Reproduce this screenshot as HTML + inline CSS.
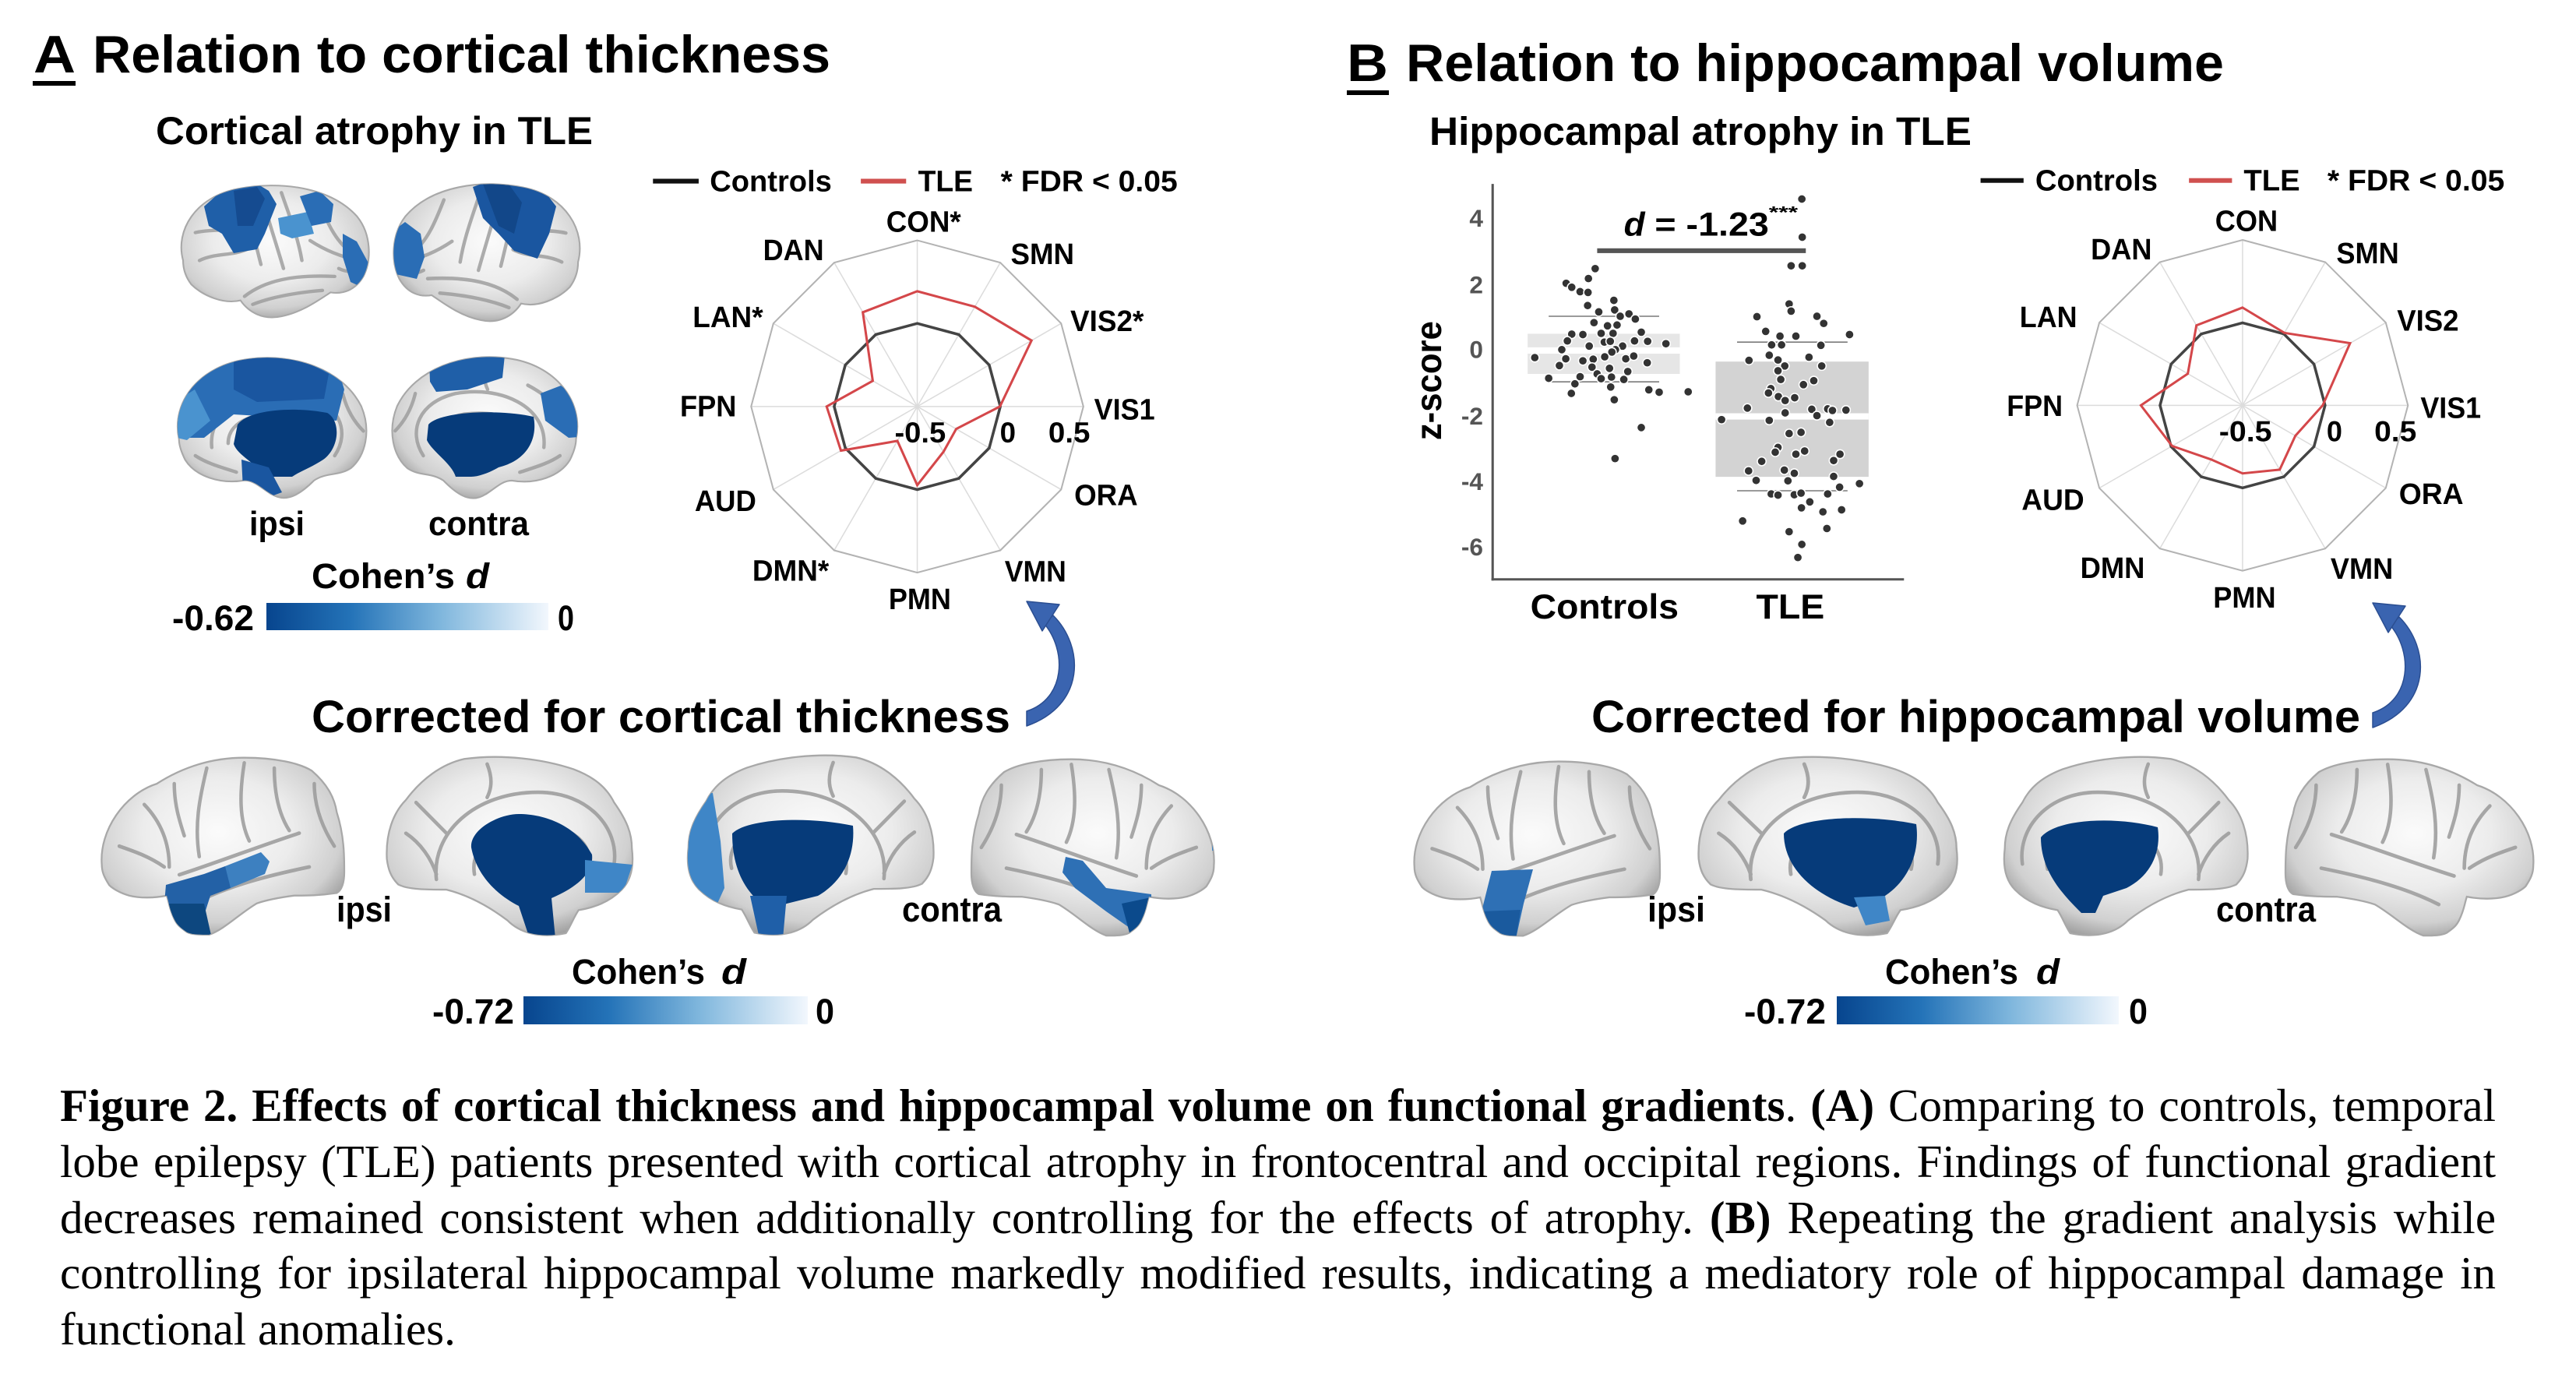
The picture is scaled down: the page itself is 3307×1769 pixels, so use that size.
<!DOCTYPE html>
<html><head><meta charset="utf-8">
<style>
html,body{margin:0;padding:0;background:#fff;}
body{width:3307px;height:1769px;position:relative;overflow:hidden;}
svg{position:absolute;left:0;top:0;}
svg text{font-family:"Liberation Sans",Arial,sans-serif;font-weight:bold;fill:#000;}
.cap{position:absolute;left:77px;width:3127px;font-family:"Liberation Serif","Times New Roman",serif;font-size:59px;line-height:71.7px;height:71.7px;color:#000;text-align:justify;text-align-last:justify;white-space:normal;overflow:hidden;}
.cap.last{text-align:left;text-align-last:left;}
</style></head>
<body>
<svg width="3307" height="1769" viewBox="0 0 3307 1769" xmlns="http://www.w3.org/2000/svg">
<defs>
  <radialGradient id="bg" cx="0.48" cy="0.42" r="0.62">
    <stop offset="0" stop-color="#fbfbfb"/>
    <stop offset="0.5" stop-color="#ececec"/>
    <stop offset="0.82" stop-color="#d0d0d0"/>
    <stop offset="1" stop-color="#9d9d9d"/>
  </radialGradient>
  <linearGradient id="cb" x1="0" x2="1" y1="0" y2="0">
    <stop offset="0" stop-color="#07458e"/>
    <stop offset="0.3" stop-color="#2473b8"/>
    <stop offset="0.62" stop-color="#80b7dd"/>
    <stop offset="1" stop-color="#f2f7fd"/>
  </linearGradient>
  <path id="latP" d="M8,40 C4,25 14,8 35,4 C55,0 80,3 93,18 C100,27 100,40 96,48 C92,55 86,57 80,56 C74,60 66,66 56,68 C47,70 40,66 36,60 C28,62 18,58 12,52 C9,48 8,44 8,40 Z"/>
  <path id="medP" d="M6,42 C2,24 16,6 40,3 C62,0 86,8 95,26 C100,38 97,50 90,56 C84,60 78,58 72,62 C66,68 60,72 54,70 C48,68 44,62 38,62 C26,64 14,60 9,52 C7,48 6,45 6,42 Z"/>
  <path id="latBP" d="M3,43 C2,30 12,16 25,12 C38,4 50,2 60,2 C72,2 82,4 87,7 C93,12 96,17 97,23 C100,32 100,40 100,46 C100,50 99,53 97,54 C90,55 85,55 80,55 C72,56 68,57 65,58 C58,62 52,68 46,70 C42,70 39,70 37,69 C34,67 33,66 32,64 C30,60 30,58 29,55 C24,56 18,56 14,55 C10,54 7,52 6,51 C4,48 3,46 3,43 Z"/>
  <path id="medBP" d="M0.5,40 C0,30 3,22 8,17 C14,9 22,3 31,1 C46,-1 62,1 74,5 C82,8 87,12 90,18 C95,25 97,30 97,36 C98,44 96,49 93,52 C88,57 82,59 76,60 C74,63 73,66 71,69 C66,70 61,70 57,69 C53,68 50,66 48,64 C40,58 32,54 24,52 C16,52 9,52 5,50 C2,47 1,44 0.5,40 Z"/>
  <g id="latT">
    <use href="#latP" fill="url(#bg)" stroke="#a8a8a8" stroke-width="0.8"/>
    <g fill="none" stroke="#9a9a9a" stroke-width="1.7" opacity="0.8" stroke-linecap="round">
      <path d="M38,58 C48,50 62,47 82,48"/>
      <path d="M46,6 C49,18 53,30 57,44"/>
      <path d="M38,7 C40,18 43,30 46,42"/>
      <path d="M56,6 C60,18 64,28 66,40"/>
      <path d="M14,26 C22,24 30,26 38,22"/>
      <path d="M16,40 C24,36 32,38 40,34"/>
      <path d="M74,10 C78,20 82,30 90,36"/>
      <path d="M42,62 C52,58 64,56 76,55"/>
      <path d="M70,30 C76,34 84,38 94,40"/>
      <path d="M22,14 C26,18 30,16 34,12"/>
      <path d="M84,44 C88,46 92,46 95,44"/>
    </g>
  </g>
  <g id="medT">
    <use href="#medP" fill="url(#bg)" stroke="#a8a8a8" stroke-width="0.8"/>
    <g fill="none" stroke="#9a9a9a" stroke-width="1.7" opacity="0.8" stroke-linecap="round">
      <path d="M22,46 C20,26 44,16 66,20 C84,24 90,38 82,50"/>
      <path d="M30,44 C30,32 46,28 62,30 C74,32 78,40 72,48"/>
      <path d="M12,30 C18,24 22,20 30,16"/>
      <path d="M86,20 C88,28 92,34 96,38"/>
      <path d="M50,5 C52,10 52,14 50,18"/>
      <path d="M14,50 C20,54 28,56 34,58"/>
    </g>
  </g>
  <g id="latBT">
    <use href="#latBP" fill="url(#bg)" stroke="#a8a8a8" stroke-width="0.7"/>
    <g fill="none" stroke="#9a9a9a" stroke-width="1.4" opacity="0.85" stroke-linecap="round">
      <path d="M34,47 C50,42 66,36 82,31"/>
      <path d="M45,6 C42,18 40,28 42,40"/>
      <path d="M60,4 C58,16 58,26 62,34"/>
      <path d="M72,6 C72,16 74,24 78,30"/>
      <path d="M20,20 C26,26 30,34 30,44"/>
      <path d="M10,36 C16,38 22,40 28,44"/>
      <path d="M40,58 C52,52 66,48 86,44"/>
      <path d="M88,12 C88,22 92,30 96,36"/>
      <path d="M32,12 C32,20 34,26 36,32"/>
    </g>
  </g>
  <g id="medBT">
    <use href="#medBP" fill="url(#bg)" stroke="#a8a8a8" stroke-width="0.7"/>
    <g fill="none" stroke="#9a9a9a" stroke-width="1.4" opacity="0.85" stroke-linecap="round">
      <path d="M20,48 C18,30 35,14 60,14 C80,14 92,28 90,42"/>
      <path d="M35,46 C33,34 45,26 62,27 C76,28 82,36 80,44"/>
      <path d="M8,30 C14,34 18,40 20,46"/>
      <path d="M40,3 C42,8 42,12 40,16"/>
      <path d="M12,18 C16,22 20,26 24,30"/>
    </g>
  </g>
  <clipPath id="ctA1"><use href="#latP" transform="translate(214,232) scale(2.63,2.56)"/></clipPath>
  <clipPath id="ctA2"><use href="#latP" transform="translate(763,230) scale(-2.61,2.66)"/></clipPath>
  <clipPath id="ctA3"><use href="#medP" transform="translate(214,453) scale(2.63,2.64)"/></clipPath>
  <clipPath id="ctA4"><use href="#medP" transform="translate(755,452) scale(-2.58,2.66)"/></clipPath>
  <clipPath id="cbA1"><use href="#latBP" transform="translate(121,966) scale(3.21,3.34)"/></clipPath>
  <clipPath id="cbA2"><use href="#medBP" transform="translate(495,971) scale(3.26,3.29)"/></clipPath>
  <clipPath id="cbA3"><use href="#medBP" transform="translate(1200,969) scale(-3.26,3.31)"/></clipPath>
  <clipPath id="cbA4"><use href="#latBP" transform="translate(1568,968) scale(-3.21,3.33)"/></clipPath>
  <clipPath id="cbB1"><use href="#latBP" transform="translate(1806,971) scale(3.25,3.29)"/></clipPath>
  <clipPath id="cbB2"><use href="#medBP" transform="translate(2179,971) scale(3.43,3.29)"/></clipPath>
  <clipPath id="cbB3"><use href="#medBP" transform="translate(2887,971) scale(-3.23,3.29)"/></clipPath>
</defs>

<rect x="0" y="0" width="3307" height="1769" fill="#fff"/>

<!-- ===== Titles ===== -->
<text x="43" y="93" font-size="68" textLength="54" lengthAdjust="spacingAndGlyphs">A</text>
<rect x="42" y="104" width="55" height="6" fill="#000"/>
<text x="119" y="93" font-size="68" textLength="947" lengthAdjust="spacingAndGlyphs">Relation to cortical thickness</text>

<text x="1729" y="104" font-size="68" textLength="53" lengthAdjust="spacingAndGlyphs">B</text>
<rect x="1729" y="116" width="54" height="6" fill="#000"/>
<text x="1805" y="104" font-size="68" textLength="1050" lengthAdjust="spacingAndGlyphs">Relation to hippocampal volume</text>

<text x="200" y="185" font-size="50" textLength="561" lengthAdjust="spacingAndGlyphs">Cortical atrophy in TLE</text>
<text x="1835" y="186" font-size="51" textLength="696" lengthAdjust="spacingAndGlyphs">Hippocampal atrophy in TLE</text>

<!-- ===== Top A brains ===== -->
<use href="#latT" transform="translate(214,232) scale(2.63,2.56)"/>
<use href="#latT" transform="translate(763,230) scale(-2.61,2.66)"/>
<use href="#medT" transform="translate(214,453) scale(2.63,2.64)"/>
<use href="#medT" transform="translate(755,452) scale(-2.58,2.66)"/>

<g clip-path="url(#ctA1)">
  <polygon points="262,265 290,240 330,236 345,245 355,262 340,300 330,320 300,325 285,300 268,290" fill="#1f5fa8"/>
  <polygon points="300,245 330,240 340,255 325,290 305,290" fill="#154b90"/>
  <polygon points="357,280 395,272 403,300 375,306 360,300" fill="#4a93cf"/>
  <polygon points="385,252 410,245 428,262 425,285 400,290" fill="#2a6db5"/>
  <polygon points="440,300 458,310 477,345 472,372 450,362 440,330" fill="#2a6db5"/>
</g>
<g clip-path="url(#ctA2)">
  <polygon points="500,300 520,285 540,300 545,330 535,358 508,352 500,330" fill="#2a6db5"/>
  <polygon points="607,240 640,228 690,234 714,265 705,300 690,332 660,322 640,300 620,280" fill="#1a56a0"/>
  <polygon points="620,236 650,232 670,260 660,300 640,290" fill="#124789"/>
</g>
<g clip-path="url(#ctA3)">
  <polygon points="238,490 270,460 320,452 380,455 432,468 442,500 432,540 300,532 262,562 222,562 216,520" fill="#2a6db5"/>
  <polygon points="300,456 380,458 422,480 416,512 330,516 300,500" fill="#1a56a0"/>
  <polygon points="218,520 250,500 270,540 240,565 218,560" fill="#4a93cf"/>
  <path d="M305,545 C320,525 380,522 420,530 C438,540 436,575 415,590 C400,600 385,605 375,612 L340,612 C330,595 305,585 300,570 Z" fill="#063b7a"/>
  <polygon points="310,590 345,600 362,632 340,640 312,628" fill="#1a56a0"/>
</g>
<g clip-path="url(#ctA4)">
  <polygon points="551,462 600,450 648,456 645,485 600,500 560,503 552,490" fill="#1f5fa8"/>
  <polygon points="694,505 720,495 752,520 758,560 730,562 700,540" fill="#2a6db5"/>
  <path d="M550,545 C565,528 640,525 685,535 C690,560 680,590 640,600 C630,606 615,612 605,612 L585,612 C580,595 555,580 548,565 Z" fill="#063b7a"/>
</g>

<text x="320" y="687" font-size="44" textLength="71" lengthAdjust="spacingAndGlyphs">ipsi</text>
<text x="550" y="687" font-size="44" textLength="129" lengthAdjust="spacingAndGlyphs">contra</text>
<text x="400" y="755" font-size="45" textLength="184" lengthAdjust="spacingAndGlyphs">Cohen’s</text>
<text x="598" y="755" font-size="45" font-style="italic" textLength="30" lengthAdjust="spacingAndGlyphs">d</text>
<text x="221" y="809" font-size="45" textLength="105" lengthAdjust="spacingAndGlyphs">-0.62</text>
<rect x="342" y="774" width="362" height="35" fill="url(#cb)"/>
<text x="716" y="809" font-size="45" textLength="21" lengthAdjust="spacingAndGlyphs">0</text>

<!-- ===== Radar A ===== -->
<g transform="translate(800,180) scale(0.5102)">
  <rect x="75" y="97" width="115" height="12" fill="#111"/>
  <text x="218" y="128" font-size="74" textLength="307" lengthAdjust="spacingAndGlyphs">Controls</text>
  <rect x="598" y="97" width="114" height="12" fill="#d0504f"/>
  <text x="742" y="128" font-size="74" textLength="138" lengthAdjust="spacingAndGlyphs">TLE</text>
  <text x="950" y="128" font-size="74" textLength="445" lengthAdjust="spacingAndGlyphs">* FDR &lt; 0.05</text>
  <g stroke="#dcdcdc" stroke-width="3">
    <line x1="740" y1="670" x2="740" y2="252"/><line x1="740" y1="670" x2="949" y2="308"/>
    <line x1="740" y1="670" x2="1102" y2="461"/><line x1="740" y1="670" x2="1158" y2="670"/>
    <line x1="740" y1="670" x2="1102" y2="879"/><line x1="740" y1="670" x2="949" y2="1032"/>
    <line x1="740" y1="670" x2="740" y2="1088"/><line x1="740" y1="670" x2="531" y2="1032"/>
    <line x1="740" y1="670" x2="378" y2="879"/><line x1="740" y1="670" x2="322" y2="670"/>
    <line x1="740" y1="670" x2="378" y2="461"/><line x1="740" y1="670" x2="531" y2="308"/>
  </g>
  <polygon points="740,252 949,308 1102,461 1158,670 1102,879 949,1032 740,1088 531,1032 378,879 322,670 378,461 531,308" fill="none" stroke="#b3b3b3" stroke-width="4"/>
  <polygon points="740,461 844.5,489 921,565.5 949,670 921,774.5 844.5,851 740,879 635.5,851 559,774.5 531,670 559,565.5 635.5,489" fill="none" stroke="#444" stroke-width="7"/>
  <polygon points="740,380 885,419 1027.5,504 948,670 838,726.5 806,784 740,868 690,756.6 548,781 512,670 628,605.5 603,433" fill="none" stroke="#d4474a" stroke-width="6"/>
  <text x="662" y="230" font-size="74" textLength="188" lengthAdjust="spacingAndGlyphs">CON*</text>
  <text x="975" y="312" font-size="74" textLength="160" lengthAdjust="spacingAndGlyphs">SMN</text>
  <text x="1125" y="480" font-size="74" textLength="185" lengthAdjust="spacingAndGlyphs">VIS2*</text>
  <text x="1185" y="703" font-size="74" textLength="153" lengthAdjust="spacingAndGlyphs">VIS1</text>
  <text x="1135" y="918" font-size="74" textLength="160" lengthAdjust="spacingAndGlyphs">ORA</text>
  <text x="960" y="1110" font-size="74" textLength="155" lengthAdjust="spacingAndGlyphs">VMN</text>
  <text x="668" y="1180" font-size="74" textLength="157" lengthAdjust="spacingAndGlyphs">PMN</text>
  <text x="325" y="1108" font-size="74" textLength="193" lengthAdjust="spacingAndGlyphs">DMN*</text>
  <text x="180" y="933" font-size="74" textLength="155" lengthAdjust="spacingAndGlyphs">AUD</text>
  <text x="143" y="695" font-size="74" textLength="142" lengthAdjust="spacingAndGlyphs">FPN</text>
  <text x="175" y="470" font-size="74" textLength="177" lengthAdjust="spacingAndGlyphs">LAN*</text>
  <text x="352" y="302" font-size="74" textLength="153" lengthAdjust="spacingAndGlyphs">DAN</text>
  <text x="683" y="760" font-size="72" textLength="129" lengthAdjust="spacingAndGlyphs">-0.5</text>
  <text x="948" y="760" font-size="72" textLength="40" lengthAdjust="spacingAndGlyphs">0</text>
  <text x="1070" y="760" font-size="72" textLength="105" lengthAdjust="spacingAndGlyphs">0.5</text>
</g>

<!-- ===== Radar B ===== -->
<g transform="translate(2520,180) scale(0.502)">
  <rect x="45" y="97" width="110" height="12" fill="#111"/>
  <text x="185" y="128" font-size="75" textLength="313" lengthAdjust="spacingAndGlyphs">Controls</text>
  <rect x="578" y="97" width="110" height="12" fill="#d0504f"/>
  <text x="718" y="128" font-size="75" textLength="144" lengthAdjust="spacingAndGlyphs">TLE</text>
  <text x="932" y="128" font-size="75" textLength="453" lengthAdjust="spacingAndGlyphs">* FDR &lt; 0.05</text>
  <g stroke="#dcdcdc" stroke-width="3">
    <line x1="715" y1="678" x2="715" y2="255"/><line x1="715" y1="678" x2="926.5" y2="311.7"/>
    <line x1="715" y1="678" x2="1081.3" y2="466.5"/><line x1="715" y1="678" x2="1138" y2="678"/>
    <line x1="715" y1="678" x2="1081.3" y2="889.5"/><line x1="715" y1="678" x2="926.5" y2="1044.3"/>
    <line x1="715" y1="678" x2="715" y2="1101"/><line x1="715" y1="678" x2="503.5" y2="1044.3"/>
    <line x1="715" y1="678" x2="348.7" y2="889.5"/><line x1="715" y1="678" x2="292" y2="678"/>
    <line x1="715" y1="678" x2="348.7" y2="466.5"/><line x1="715" y1="678" x2="503.5" y2="311.7"/>
  </g>
  <polygon points="715,255 926.5,311.7 1081.3,466.5 1138,678 1081.3,889.5 926.5,1044.3 715,1101 503.5,1044.3 348.7,889.5 292,678 348.7,466.5 503.5,311.7" fill="none" stroke="#b3b3b3" stroke-width="4"/>
  <polygon points="715,467 820.5,495.3 897.7,572.5 926,678 897.7,783.5 820.5,860.7 715,889 609.5,860.7 532.3,783.5 504,678 532.3,572.5 609.5,495.3" fill="none" stroke="#444" stroke-width="7"/>
  <polygon points="715,428 822,492.7 990,519 920,678 850,756 810,842.5 715,852 635,816.6 535,782 455,678 575,597 597,473.6" fill="none" stroke="#d4474a" stroke-width="6"/>
  <text x="645" y="232" font-size="75" textLength="160" lengthAdjust="spacingAndGlyphs">CON</text>
  <text x="955" y="315" font-size="75" textLength="160" lengthAdjust="spacingAndGlyphs">SMN</text>
  <text x="1110" y="487" font-size="75" textLength="158" lengthAdjust="spacingAndGlyphs">VIS2</text>
  <text x="1170" y="710" font-size="75" textLength="155" lengthAdjust="spacingAndGlyphs">VIS1</text>
  <text x="1115" y="930" font-size="75" textLength="165" lengthAdjust="spacingAndGlyphs">ORA</text>
  <text x="940" y="1122" font-size="75" textLength="160" lengthAdjust="spacingAndGlyphs">VMN</text>
  <text x="640" y="1195" font-size="75" textLength="160" lengthAdjust="spacingAndGlyphs">PMN</text>
  <text x="300" y="1120" font-size="75" textLength="165" lengthAdjust="spacingAndGlyphs">DMN</text>
  <text x="150" y="945" font-size="75" textLength="160" lengthAdjust="spacingAndGlyphs">AUD</text>
  <text x="112" y="705" font-size="75" textLength="143" lengthAdjust="spacingAndGlyphs">FPN</text>
  <text x="145" y="478" font-size="75" textLength="147" lengthAdjust="spacingAndGlyphs">LAN</text>
  <text x="327" y="305" font-size="75" textLength="156" lengthAdjust="spacingAndGlyphs">DAN</text>
  <text x="655" y="770" font-size="73" textLength="135" lengthAdjust="spacingAndGlyphs">-0.5</text>
  <text x="930" y="770" font-size="73" textLength="40" lengthAdjust="spacingAndGlyphs">0</text>
  <text x="1052" y="770" font-size="73" textLength="108" lengthAdjust="spacingAndGlyphs">0.5</text>
</g>

<!-- ===== Scatter plot ===== -->
<g transform="translate(1780,180) scale(0.5102)">
  <rect x="355" y="487" width="383" height="101" fill="#e6e6e6"/>
  <line x1="355" y1="529" x2="738" y2="529" stroke="#fff" stroke-width="16"/>
  <line x1="408" y1="443" x2="686" y2="443" stroke="#7a7a7a" stroke-width="3"/>
  <line x1="408" y1="608" x2="686" y2="608" stroke="#7a7a7a" stroke-width="3"/>
  <rect x="828" y="557" width="385" height="290" fill="#d3d3d3"/>
  <line x1="828" y1="695" x2="1213" y2="695" stroke="#fff" stroke-width="16"/>
  <line x1="882" y1="508" x2="1160" y2="508" stroke="#7a7a7a" stroke-width="3"/>
  <line x1="882" y1="882" x2="1160" y2="882" stroke="#7a7a7a" stroke-width="3"/>
  <rect x="530" y="272" width="525" height="12" fill="#555"/>
  <g fill="#333" stroke="#fff" stroke-width="3">
    <circle cx="525" cy="323" r="11"/><circle cx="508" cy="348" r="11"/><circle cx="452" cy="360" r="11"/><circle cx="466" cy="370" r="11"/>
    <circle cx="487" cy="381" r="11"/><circle cx="507" cy="383" r="11"/><circle cx="506" cy="416" r="11"/><circle cx="572" cy="403" r="11"/>
    <circle cx="534" cy="432" r="11"/><circle cx="574" cy="427" r="11"/><circle cx="588" cy="443" r="11"/><circle cx="610" cy="437" r="11"/>
    <circle cx="626" cy="450" r="11"/><circle cx="522" cy="459" r="11"/><circle cx="556" cy="467" r="11"/><circle cx="580" cy="465" r="11"/>
    <circle cx="466" cy="488" r="11"/><circle cx="494" cy="489" r="11"/><circle cx="540" cy="486" r="11"/><circle cx="570" cy="486" r="11"/>
    <circle cx="641" cy="483" r="11"/><circle cx="455" cy="505" r="11"/><circle cx="548" cy="508" r="11"/><circle cx="563" cy="506" r="11"/>
    <circle cx="624" cy="505" r="11"/><circle cx="657" cy="506" r="11"/><circle cx="703" cy="512" r="11"/><circle cx="510" cy="518" r="11"/>
    <circle cx="594" cy="518" r="11"/><circle cx="576" cy="527" r="11"/><circle cx="441" cy="527" r="11"/><circle cx="567" cy="533" r="11"/>
    <circle cx="373" cy="547" r="11"/><circle cx="451" cy="550" r="11"/><circle cx="494" cy="555" r="11"/><circle cx="520" cy="551" r="11"/>
    <circle cx="549" cy="545" r="11"/><circle cx="602" cy="550" r="11"/><circle cx="622" cy="543" r="11"/><circle cx="435" cy="567" r="11"/>
    <circle cx="656" cy="560" r="11"/><circle cx="517" cy="571" r="11"/><circle cx="561" cy="574" r="11"/><circle cx="607" cy="582" r="11"/>
    <circle cx="530" cy="588" r="11"/><circle cx="487" cy="595" r="11"/><circle cx="408" cy="599" r="11"/><circle cx="540" cy="600" r="11"/>
    <circle cx="566" cy="596" r="11"/><circle cx="597" cy="602" r="11"/><circle cx="474" cy="613" r="11"/><circle cx="564" cy="621" r="11"/>
    <circle cx="465" cy="637" r="11"/><circle cx="660" cy="628" r="11"/><circle cx="686" cy="634" r="11"/><circle cx="759" cy="633" r="11"/>
    <circle cx="573" cy="653" r="11"/><circle cx="641" cy="723" r="11"/><circle cx="575" cy="801" r="11"/>
    <circle cx="1045" cy="148" r="11"/><circle cx="1046" cy="244" r="11"/><circle cx="1018" cy="316" r="11"/><circle cx="1046" cy="316" r="11"/>
    <circle cx="1013" cy="412" r="11"/><circle cx="1018" cy="430" r="11"/><circle cx="932" cy="444" r="11"/><circle cx="1083" cy="443" r="11"/>
    <circle cx="1100" cy="461" r="11"/><circle cx="954" cy="481" r="11"/><circle cx="990" cy="493" r="11"/><circle cx="1030" cy="493" r="11"/>
    <circle cx="1165" cy="489" r="11"/><circle cx="969" cy="515" r="11"/><circle cx="994" cy="515" r="11"/><circle cx="1093" cy="516" r="11"/>
    <circle cx="963" cy="541" r="11"/><circle cx="985" cy="553" r="11"/><circle cx="1063" cy="546" r="11"/><circle cx="912" cy="554" r="11"/>
    <circle cx="1002" cy="568" r="11"/><circle cx="1095" cy="568" r="11"/><circle cx="985" cy="580" r="11"/><circle cx="992" cy="602" r="11"/>
    <circle cx="1075" cy="605" r="11"/><circle cx="1049" cy="615" r="11"/><circle cx="967" cy="625" r="11"/><circle cx="961" cy="636" r="11"/>
    <circle cx="986" cy="645" r="11"/><circle cx="1027" cy="648" r="11"/><circle cx="1003" cy="655" r="11"/><circle cx="908" cy="674" r="11"/>
    <circle cx="1070" cy="677" r="11"/><circle cx="1110" cy="676" r="11"/><circle cx="1122" cy="680" r="11"/><circle cx="1156" cy="679" r="11"/>
    <circle cx="1003" cy="686" r="11"/><circle cx="1083" cy="693" r="11"/><circle cx="843" cy="703" r="11"/><circle cx="963" cy="705" r="11"/>
    <circle cx="1115" cy="710" r="11"/><circle cx="1013" cy="738" r="11"/><circle cx="1043" cy="735" r="11"/><circle cx="985" cy="773" r="11"/>
    <circle cx="1052" cy="782" r="11"/><circle cx="978" cy="785" r="11"/><circle cx="1030" cy="790" r="11"/><circle cx="1141" cy="790" r="11"/>
    <circle cx="1125" cy="806" r="11"/><circle cx="944" cy="808" r="11"/><circle cx="911" cy="832" r="11"/><circle cx="1001" cy="830" r="11"/>
    <circle cx="1026" cy="838" r="11"/><circle cx="1010" cy="857" r="11"/><circle cx="930" cy="856" r="11"/><circle cx="1125" cy="846" r="11"/>
    <circle cx="1190" cy="864" r="11"/><circle cx="1140" cy="873" r="11"/><circle cx="968" cy="890" r="11"/><circle cx="985" cy="893" r="11"/>
    <circle cx="1026" cy="892" r="11"/><circle cx="1043" cy="888" r="11"/><circle cx="1110" cy="890" r="11"/><circle cx="1065" cy="910" r="11"/>
    <circle cx="1044" cy="925" r="11"/><circle cx="1098" cy="935" r="11"/><circle cx="1145" cy="930" r="11"/><circle cx="896" cy="958" r="11"/>
    <circle cx="1108" cy="977" r="11"/><circle cx="1013" cy="985" r="11"/><circle cx="1045" cy="1017" r="11"/><circle cx="1035" cy="1050" r="11"/>
  </g>
  <line x1="267" y1="110" x2="267" y2="1108" stroke="#555" stroke-width="6"/>
  <line x1="264" y1="1105" x2="1302" y2="1105" stroke="#555" stroke-width="6"/>
  <g text-anchor="end">
    <text x="243" y="218" font-size="62" style="fill:#555">4</text>
    <text x="243" y="385" font-size="62" style="fill:#555">2</text>
    <text x="243" y="548" font-size="62" style="fill:#555">0</text>
    <text x="243" y="715" font-size="62" style="fill:#555">-2</text>
    <text x="243" y="880" font-size="62" style="fill:#555">-4</text>
    <text x="243" y="1045" font-size="62" style="fill:#555">-6</text>
  </g>
  <text transform="translate(137,605) rotate(-90)" text-anchor="middle" font-size="90" textLength="300" lengthAdjust="spacingAndGlyphs">z-score</text>
  <text x="597" y="240" font-size="84" font-style="italic" textLength="53" lengthAdjust="spacingAndGlyphs">d</text>
  <text x="675" y="240" font-size="84" textLength="287" lengthAdjust="spacingAndGlyphs">= -1.23</text>
  <text x="962" y="195" font-size="42" textLength="73" lengthAdjust="spacingAndGlyphs">***</text>
  <text x="362" y="1203" font-size="88" textLength="373" lengthAdjust="spacingAndGlyphs">Controls</text>
  <text x="930" y="1203" font-size="88" textLength="172" lengthAdjust="spacingAndGlyphs">TLE</text>
</g>

<!-- ===== Curved arrows ===== -->
<g id="arrowA" fill="#3a64b0" stroke="#2b4e91" stroke-width="1.5" stroke-linejoin="round">
  <path d="M1352,790 C1392,830 1394,905 1318,932 L1318,913 C1368,897 1370,835 1340,800 Z"/>
  <polygon points="1318,772 1360,776 1338,810"/>
</g>
<use href="#arrowA" transform="translate(1728,2)"/>

<!-- ===== Bottom headings ===== -->
<text x="400" y="940" font-size="58" textLength="897" lengthAdjust="spacingAndGlyphs">Corrected for cortical thickness</text>
<text x="2043" y="940" font-size="58" textLength="987" lengthAdjust="spacingAndGlyphs">Corrected for hippocampal volume</text>

<!-- ===== Bottom A brains ===== -->
<use href="#latBT" transform="translate(121,966) scale(3.21,3.34)"/>
<use href="#medBT" transform="translate(495,971) scale(3.26,3.29)"/>
<use href="#medBT" transform="translate(1200,969) scale(-3.26,3.31)"/>
<use href="#latBT" transform="translate(1568,968) scale(-3.21,3.33)"/>
<g clip-path="url(#cbA1)">
  <polygon points="289,1112 335,1094 346,1106 340,1122 296,1140 289,1138" fill="#3d80c0"/>
  <polygon points="213,1136 262,1122 289,1112 296,1140 270,1150 262,1175 270,1205 236,1205 210,1172" fill="#2361a6"/>
  <polygon points="210,1160 262,1160 272,1205 232,1205" fill="#0d477f"/>
</g>
<g clip-path="url(#cbA2)">
  <path d="M605,1088 C603,1065 640,1045 666,1045 C700,1045 740,1060 760,1097 C762,1115 750,1135 708,1153 L713,1205 L680,1205 L666,1163 C640,1150 612,1125 605,1088 Z" fill="#063b7a"/>
  <polygon points="751,1104 812,1110 800,1146 751,1146" fill="#3f86c7"/>
</g>
<g clip-path="url(#cbA3)">
  <polygon points="872,1022 915,1018 925,1080 930,1140 920,1162 890,1152 872,1100" fill="#3f86c7"/>
  <path d="M940,1070 C960,1050 1040,1048 1095,1060 C1098,1095 1085,1130 1050,1150 L1010,1160 L990,1170 C960,1150 940,1120 940,1070 Z" fill="#063b7a"/>
  <polygon points="963,1150 1010,1150 1005,1205 975,1205" fill="#1f5fa8"/>
</g>
<g clip-path="url(#cbA4)">
  <polygon points="1368,1100 1390,1105 1420,1140 1478,1148 1478,1185 1460,1198 1420,1170 1380,1140 1364,1120" fill="#2e70b5"/>
  <polygon points="1440,1160 1478,1152 1472,1200 1452,1205" fill="#0b4a8c"/>
  <polygon points="1556,1040 1570,1040 1570,1092 1556,1092" fill="#3f86c7"/>
</g>
<text x="432" y="1183" font-size="45" textLength="71" lengthAdjust="spacingAndGlyphs">ipsi</text>
<text x="1158" y="1183" font-size="45" textLength="128" lengthAdjust="spacingAndGlyphs">contra</text>
<text x="734" y="1263" font-size="45" textLength="171" lengthAdjust="spacingAndGlyphs">Cohen’s</text>
<text x="926" y="1263" font-size="45" font-style="italic" textLength="32" lengthAdjust="spacingAndGlyphs">d</text>
<text x="555" y="1314" font-size="45" textLength="105" lengthAdjust="spacingAndGlyphs">-0.72</text>
<rect x="672" y="1279" width="365" height="36" fill="url(#cb)"/>
<text x="1047" y="1314" font-size="45" textLength="24" lengthAdjust="spacingAndGlyphs">0</text>

<!-- ===== Bottom B brains ===== -->
<use href="#latBT" transform="translate(1806,971) scale(3.25,3.29)"/>
<use href="#medBT" transform="translate(2179,971) scale(3.43,3.29)"/>
<use href="#medBT" transform="translate(2887,971) scale(-3.23,3.29)"/>
<use href="#latBT" transform="translate(3262,968) scale(-3.28,3.33)"/>
<g clip-path="url(#cbB1)">
  <polygon points="1915,1118 1968,1116 1956,1160 1946,1205 1918,1205 1902,1170" fill="#2e70b5"/>
  <polygon points="1902,1170 1952,1168 1946,1205 1912,1205" fill="#1a5a9e"/>
</g>
<g clip-path="url(#cbB2)">
  <path d="M2290,1070 C2310,1048 2400,1045 2460,1058 C2465,1095 2450,1130 2420,1150 L2395,1160 L2380,1165 C2330,1150 2290,1115 2290,1070 Z" fill="#063b7a"/>
  <polygon points="2380,1152 2420,1150 2426,1182 2395,1188" fill="#3f86c7"/>
</g>
<g clip-path="url(#cbB3)">
  <path d="M2620,1075 C2640,1050 2720,1048 2770,1062 C2775,1095 2760,1125 2730,1140 L2700,1150 L2690,1172 L2672,1172 C2650,1150 2620,1120 2620,1075 Z" fill="#063b7a"/>
</g>
<text x="2115" y="1183" font-size="45" textLength="74" lengthAdjust="spacingAndGlyphs">ipsi</text>
<text x="2845" y="1183" font-size="45" textLength="128" lengthAdjust="spacingAndGlyphs">contra</text>
<text x="2420" y="1263" font-size="45" textLength="171" lengthAdjust="spacingAndGlyphs">Cohen’s</text>
<text x="2614" y="1263" font-size="45" font-style="italic" textLength="30" lengthAdjust="spacingAndGlyphs">d</text>
<text x="2239" y="1314" font-size="45" textLength="105" lengthAdjust="spacingAndGlyphs">-0.72</text>
<rect x="2358" y="1279" width="362" height="36" fill="url(#cb)"/>
<text x="2733" y="1314" font-size="45" textLength="24" lengthAdjust="spacingAndGlyphs">0</text>
</svg>

<div class="cap" style="top:1384.2px"><b>Figure 2. Effects of cortical thickness and hippocampal volume on functional gradients</b>. <b>(A)</b> Comparing to controls, temporal</div>
<div class="cap" style="top:1455.9px">lobe epilepsy (TLE) patients presented with cortical atrophy in frontocentral and occipital regions. Findings of functional gradient</div>
<div class="cap" style="top:1527.6px">decreases remained consistent when additionally controlling for the effects of atrophy. <b>(B)</b> Repeating the gradient analysis while</div>
<div class="cap" style="top:1599.3px">controlling for ipsilateral hippocampal volume markedly modified results, indicating a mediatory role of hippocampal damage in</div>
<div class="cap last" style="top:1671.0px">functional anomalies.</div>
</body></html>
